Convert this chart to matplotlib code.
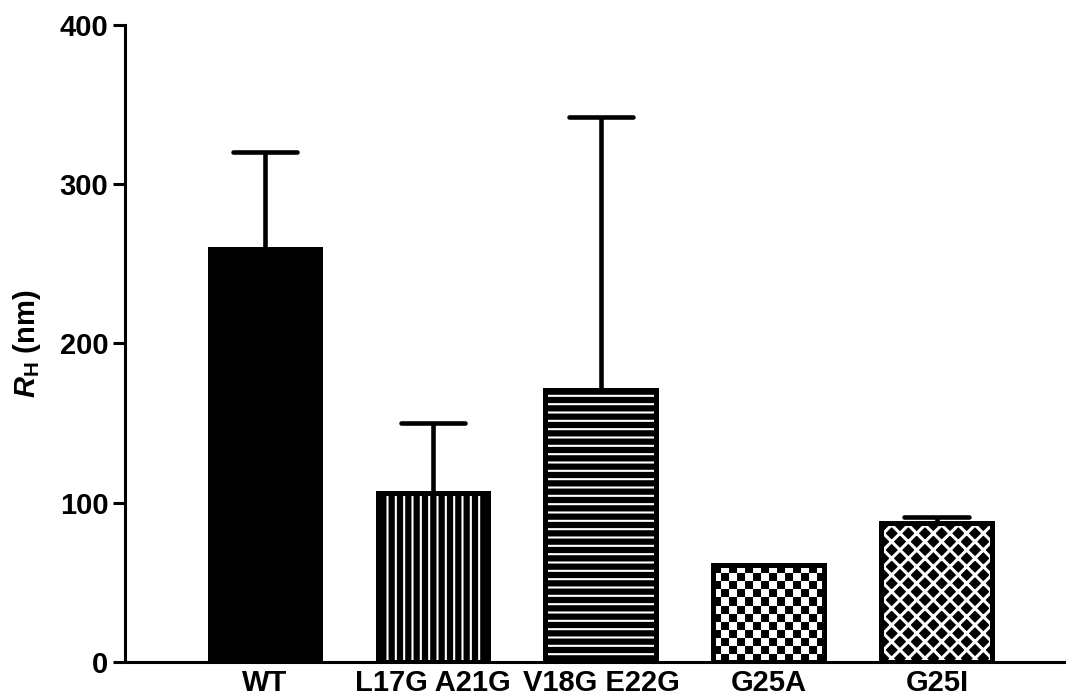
import numpy as np
import matplotlib.pyplot as plt

plt.rcParams['font.family'] = ['Liberation Sans', 'DejaVu Sans']
plt.rcParams['font.weight'] = 'bold'
plt.rcParams['mathtext.fontset'] = 'custom'
plt.rcParams['mathtext.it'] = 'Liberation Sans:italic:bold'
plt.rcParams['mathtext.rm'] = 'Liberation Sans:bold'
plt.rcParams['mathtext.bf'] = 'Liberation Sans:bold'

# hydrodynamic radius per construct, mean and upper error
labels = ['WT', 'L17G A21G', 'V18G E22G', 'G25A', 'G25I']
means = [259.5, 106, 170.5, 61, 87.5]
errs = [60.5, 44, 171.5, 0, 3.5]
fills = ['solid', 'vlines', 'hlines', 'checker', 'lattice']

fig = plt.figure(figsize=(10.66, 6.96), dpi=100)
ax = fig.add_axes([0.1173, 0.0489, 0.8807, 0.9152])
ax.set_xlim(-0.833, 4.756)
ax.set_ylim(0, 400)

x = np.arange(len(labels))
means = np.array(means, dtype=float)
errs = np.array(errs, dtype=float)
width = 0.66
edge_lw = 3.6
fs = 21

# pixels per data unit, used for the checkerboard cell size
p0 = ax.transData.transform((0, 0))
p1 = ax.transData.transform((1, 1))
ppx, ppy = p1 - p0
cell_px = 8.0

for i, style in enumerate(fills):
    if style == 'solid':
        ax.bar(x[i], means[i], width, color='black', edgecolor='black', linewidth=edge_lw)
        continue
    if style in ('vlines', 'hlines', 'lattice'):
        hatch = {'vlines': '||', 'hlines': '--', 'lattice': 'xx'}[style]
        hlw = 2.2 if style == 'lattice' else 1.5
        with plt.rc_context({'hatch.linewidth': hlw}):
            b = ax.bar(x[i], means[i], width, facecolor='black', edgecolor='white',
                       linewidth=0, hatch=hatch)
        for p in b:
            if hasattr(p, 'set_hatch_linewidth'):
                p.set_hatch_linewidth(hlw)
    else:
        b = ax.bar(x[i], means[i], width, facecolor='white', linewidth=0)
        left = x[i] - width / 2
        nx = int(np.ceil(width * ppx / cell_px))
        ny = int(np.ceil(means[i] * ppy / cell_px))
        board = np.indices((ny, nx)).sum(axis=0) % 2
        im = ax.imshow(board, cmap='binary', interpolation='nearest', origin='lower',
                       aspect='auto', zorder=1.5,
                       extent=[left, left + nx * cell_px / ppx, 0, ny * cell_px / ppy])
        im.set_clip_path(b[0])
    ax.bar(x[i], means[i], width, fill=False, edgecolor='black', linewidth=edge_lw, zorder=2)

ax.set_xlim(-0.833, 4.756)
ax.set_ylim(0, 400)

# upper error bars only
has_err = errs > 0
stems = ax.vlines(x[has_err], means[has_err], (means + errs)[has_err],
                  colors='black', linewidth=3.3, zorder=3)
caps = ax.hlines((means + errs)[has_err], x[has_err] - 0.193, x[has_err] + 0.193,
                 colors='black', linewidth=3.3, zorder=3)
caps.set_capstyle('round')

ax.spines['top'].set_visible(False)
ax.spines['right'].set_visible(False)
for s in ('left', 'bottom'):
    ax.spines[s].set_linewidth(2.2)
    ax.spines[s].set_zorder(4)

ax.set_yticks([0, 100, 200, 300, 400])
ax.set_xticks(x)
ax.set_xticklabels(labels)
ax.tick_params(axis='y', length=8.5, width=2.2, pad=3.5, labelsize=fs)
ax.tick_params(axis='x', length=0, pad=5, labelsize=fs)
for t in ax.get_xticklabels() + ax.get_yticklabels():
    t.set_fontweight('bold')

ax.set_ylabel(r'$\mathit{R}_{\mathrm{H}}$ (nm)', fontsize=fs, fontweight='bold', labelpad=12)

fig.savefig('out.png', dpi=100)
